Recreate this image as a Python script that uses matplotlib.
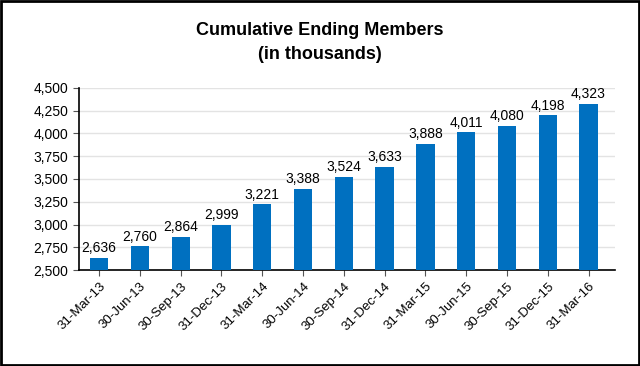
import matplotlib
matplotlib.use("Agg")
import matplotlib.pyplot as plt
from matplotlib.patches import Rectangle

plt.rcParams['font.family'] = ['Liberation Sans', 'DejaVu Sans']

dates = ["31-Mar-13", "30-Jun-13", "30-Sep-13", "31-Dec-13", "31-Mar-14", "30-Jun-14",
         "30-Sep-14", "31-Dec-14", "31-Mar-15", "30-Jun-15", "30-Sep-15", "31-Dec-15", "31-Mar-16"]
members = [2636, 2760, 2864, 2999, 3221, 3388, 3524, 3633, 3888, 4011, 4080, 4198, 4323]
yticks = [2500, 2750, 3000, 3250, 3500, 3750, 4000, 4250, 4500]

fig = plt.figure(figsize=(6.4, 3.66), dpi=100)
fig.patches.append(Rectangle((0.002, 0.003), 0.996, 0.994, transform=fig.transFigure,
                             fill=False, edgecolor='black', linewidth=2))
ax = fig.add_axes([0.123, 0.262, 0.838, 0.498])

x = range(len(dates))
ax.bar(x, members, width=0.45, color='#0070C0', zorder=3)
for i, v in zip(x, members):
    ax.text(i, v + 30, f"{v:,}", ha='center', va='bottom', fontsize=10)

ax.set_ylim(2500, 4500)
ax.set_xlim(-0.5, 12.65)
ax.set_yticks(yticks)
ax.set_yticklabels([f"{t:,}" for t in yticks], fontsize=10)
ax.set_xticks(list(x))
ax.set_xticklabels(dates, rotation=45, ha='right', rotation_mode='anchor', fontsize=9.5)
ax.grid(axis='y', color='#e3e3e3', linewidth=1, zorder=0)
ax.spines['top'].set_visible(False)
ax.spines['right'].set_visible(False)
ax.spines['left'].set_linewidth(1.2)
ax.spines['bottom'].set_linewidth(1.2)
ax.tick_params(axis='both', length=4, width=0.8, color='#555555')

fig.suptitle("Cumulative Ending Members\n(in thousands)", y=0.94, fontsize=13,
             fontweight='bold', linespacing=1.55)

fig.savefig("out.png", dpi=100)
